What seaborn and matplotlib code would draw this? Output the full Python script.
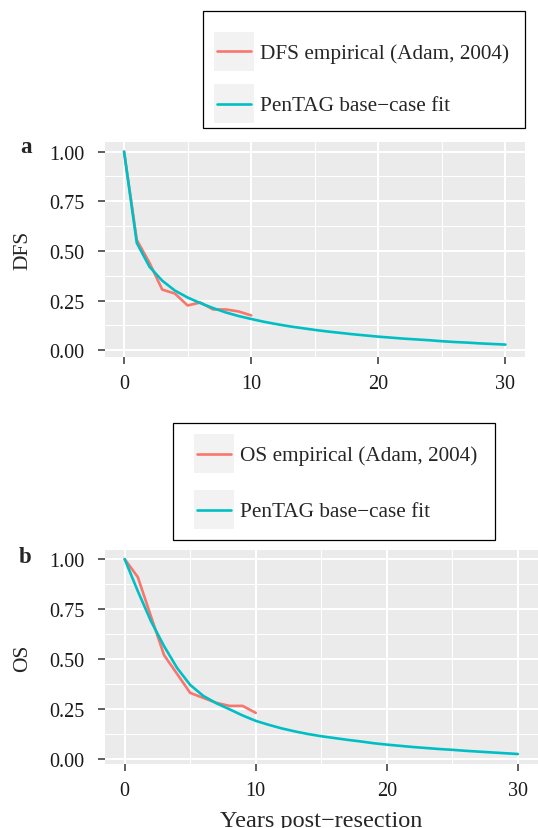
import numpy as np
import pandas as pd
import matplotlib
matplotlib.use('Agg')
import matplotlib.pyplot as plt
import seaborn as sns
from matplotlib.lines import Line2D
from matplotlib.patches import Rectangle
from matplotlib.legend_handler import HandlerLine2D

# ── data ─────────────────────────────────────────────────────────
years_emp = list(range(0, 11))
dfs_emp = [1.00, 0.555, 0.44, 0.305, 0.285, 0.225, 0.24, 0.205, 0.205, 0.195, 0.175]
os_emp = [1.00, 0.91, 0.715, 0.52, 0.425, 0.33, 0.305, 0.28, 0.265, 0.265, 0.23]

years_fit = list(range(0, 31))
dfs_fit = [1.00, 0.54, 0.42, 0.35, 0.30, 0.265, 0.237, 0.212, 0.19, 0.172, 0.157,
           0.143, 0.131, 0.12, 0.111, 0.102, 0.094, 0.087, 0.080, 0.074, 0.068,
           0.063, 0.058, 0.054, 0.050, 0.045, 0.041, 0.038, 0.034, 0.031, 0.028]
os_fit = [1.00, 0.84, 0.69, 0.565, 0.455, 0.37, 0.315, 0.278, 0.248, 0.217, 0.19,
          0.17, 0.152, 0.137, 0.124, 0.113, 0.104, 0.095, 0.087, 0.078, 0.071,
          0.065, 0.059, 0.054, 0.049, 0.045, 0.040, 0.036, 0.032, 0.028, 0.024]

EMP_COLOR = '#F8766D'
FIT_COLOR = '#00BFC4'
W, H = 538, 829

sns.set_theme(style='darkgrid')
plt.rcParams['font.family'] = ['Liberation Serif', 'DejaVu Serif']
plt.rcParams['axes.facecolor'] = '#EBEBEB'


class KeyHandler(HandlerLine2D):
    # ggplot-style legend key: grey square with a line through it
    def create_artists(self, legend, orig_handle, xdescent, ydescent,
                       width, height, fontsize, trans):
        bg = Rectangle((-xdescent, -ydescent), width, height,
                       facecolor='#F2F2F2', edgecolor='none', transform=trans)
        y = -ydescent + height / 2
        ln = Line2D([-xdescent + 0.07 * width, -xdescent + 0.93 * width], [y, y],
                    color=orig_handle.get_color(), lw=orig_handle.get_linewidth(),
                    transform=trans)
        return [bg, ln]


def px_axes(fig, left, top, right, bottom):
    return fig.add_axes([left / W, 1 - bottom / H, (right - left) / W, (bottom - top) / H])


def style_axes(ax, ylim, ylabel):
    ax.set_xlim(-1.5, 31.5)
    ax.set_ylim(*ylim)
    ax.set_xticks([0, 10, 20, 30])
    ax.set_xticks([5, 15, 25], minor=True)
    ax.set_yticks([0, 0.25, 0.5, 0.75, 1.0])
    ax.set_yticklabels(['0.00', '0.25', '0.50', '0.75', '1.00'])
    ax.set_yticks([0.125, 0.375, 0.625, 0.875], minor=True)
    ax.grid(which='major', color='white', lw=1.5)
    ax.grid(which='minor', color='white', lw=0.75)
    for s in ax.spines.values():
        s.set_visible(False)
    ax.tick_params(which='major', length=5, width=1.1, color='#333333',
                   labelsize=14.5, labelcolor='#1a1a1a', bottom=True, left=True)
    ax.tick_params(axis='x', which='major', pad=7.5)
    ax.tick_params(axis='y', which='major', pad=10)
    ax.tick_params(which='minor', length=0)
    ax.set_ylabel(ylabel, fontsize=15.5, labelpad=12)
    ax.set_xlabel('')


def draw_legend(fig, box, key_top_left, labels, spacing):
    l, t, r, b = box
    fig.patches.append(Rectangle((l / W, 1 - b / H), (r - l) / W, (b - t) / H,
                                 transform=fig.transFigure, fill=False,
                                 edgecolor='black', lw=0.9))
    handles = [Line2D([], [], color=EMP_COLOR, lw=1.9),
               Line2D([], [], color=FIT_COLOR, lw=1.9)]
    fig.legend(handles, labels, loc='upper left',
               bbox_to_anchor=(key_top_left[0] / W, 1 - key_top_left[1] / H),
               bbox_transform=fig.transFigure, frameon=False, fontsize=15.3,
               handlelength=1.88, handleheight=2.45, labelspacing=spacing,
               handletextpad=0.3, borderpad=0, borderaxespad=0,
               handler_map={Line2D: KeyHandler()})


dfs = pd.concat([
    pd.DataFrame({'year': years_emp, 'value': dfs_emp, 'series': 'emp'}),
    pd.DataFrame({'year': years_fit, 'value': dfs_fit, 'series': 'fit'}),
])
os_df = pd.concat([
    pd.DataFrame({'year': years_emp, 'value': os_emp, 'series': 'emp'}),
    pd.DataFrame({'year': years_fit, 'value': os_fit, 'series': 'fit'}),
])
palette = {'emp': EMP_COLOR, 'fit': FIT_COLOR}

fig = plt.figure(figsize=(W / 100, H / 100), dpi=100)

# ── panel a: DFS ─────────────────────────────────────────────────
ax_a = px_axes(fig, 105, 142.7, 524.5, 357.7)
sns.lineplot(data=dfs, x='year', y='value', hue='series', palette=palette,
             lw=1.9, legend=False, ax=ax_a)
style_axes(ax_a, (-0.033, 1.05), 'DFS')
draw_legend(fig, (202.7, 11.7, 525, 129.3), (214, 32.7),
            ['DFS empirical (Adam, 2004)', 'PenTAG base\u2212case fit'], 0.63)
fig.text(20 / W, 1 - 153 / H, 'a', fontsize=16.5, fontweight='bold', va='baseline')

# ── panel b: OS ──────────────────────────────────────────────────
ax_b = px_axes(fig, 105, 550.7, 537.5, 765)
sns.lineplot(data=os_df, x='year', y='value', hue='series', palette=palette,
             lw=1.9, legend=False, ax=ax_b)
style_axes(ax_b, (-0.026, 1.047), 'OS')
ax_b.set_xlabel('Years post\u2212resection', fontsize=17.5, labelpad=7)
draw_legend(fig, (173.3, 424.3, 495, 540.7), (194, 435),
            ['OS empirical (Adam, 2004)', 'PenTAG base\u2212case fit'], 0.8)
fig.text(18.5 / W, 1 - 563 / H, 'b', fontsize=16.5, fontweight='bold', va='baseline')

fig.savefig('out.png', dpi=100)
